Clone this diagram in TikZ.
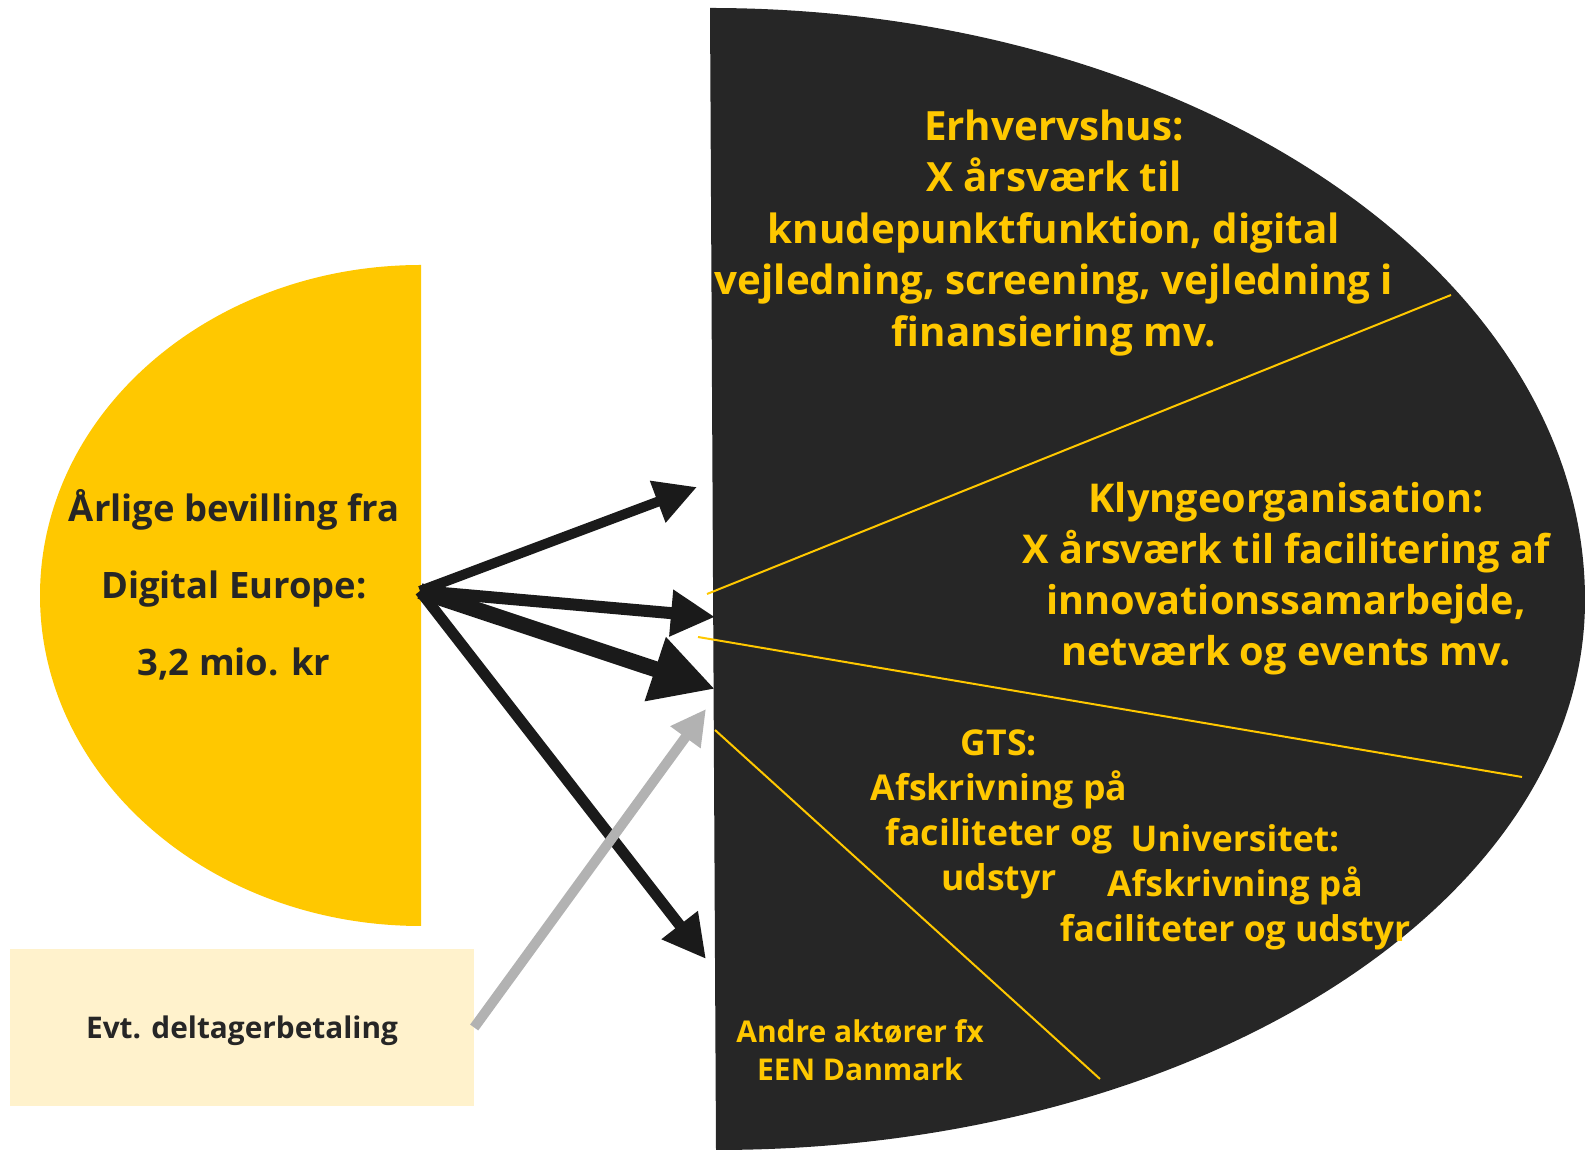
\documentclass[tikz,border=0pt]{standalone}
\usepackage{fontspec}
\setmainfont{Open Sans}
\usetikzlibrary{arrows.meta,positioning}
\definecolor{sunyellow}{RGB}{255,200,0}
\definecolor{paleyellow}{RGB}{255,242,204}
\definecolor{charcoal}{RGB}{38,38,38}
\definecolor{inkblack}{RGB}{26,26,26}
\definecolor{ashgrey}{RGB}{178,178,178}
\tikzset{x=1pt,y=1pt,
         every node/.style={inner sep=0pt,align=center},
         hubtext/.style args={#1/#2}{text=sunyellow,font=\bfseries\fontsize{#1}{#2}\selectfont},
         divider/.style={sunyellow,line width=2pt},
         flow/.style args={#1/#2}{inkblack,line width=#1,-{Triangle[length=#2,width=#2]}}}

\begin{document}
\begin{tikzpicture}
  \useasboundingbox (0,0) rectangle (1585,1156);
  % the two halves
  \fill[charcoal] (710,1148) arc[start angle=90,end angle=0,x radius=875,y radius=592]
                  arc[start angle=0,end angle=-90,x radius=869,y radius=550] -- cycle;
  \fill[sunyellow] (421,891) arc[start angle=90,end angle=270,x radius=381,y radius=330.5] -- cycle;
  \draw[divider] (707,562) -- (1451,861);
  \draw[divider] (698,519) -- (1522,379);
  \draw[divider] (715,426) -- (1100,77);
  % texts
  \node[text=charcoal,font=\bfseries\fontsize{36.4}{77}\selectfont] (fund) at (234,571)
    {Årlige bevilling fra\\Digital Europe:\\3,2 mio. kr};
  \node[fill=paleyellow,minimum width=464pt,minimum height=157pt,text=charcoal,text depth=0pt,
        font=\bfseries\fontsize{29.8}{36}\selectfont] (fee) at (242,128.5) {Evt. deltagerbetaling};
  \node[hubtext=40.3/51.5] (erh) at (1054,923)
    {Erhvervshus:\\X årsværk til\\knudepunktfunktion, digital\\vejledning, screening, vejledning i\\finansiering mv.};
  \node[hubtext=39.7/51] (klynge) at (1286,577)
    {Klyngeorganisation:\\X årsværk til facilitering af\\innovationssamarbejde,\\netværk og events mv.};
  \node[hubtext=35.6/45] (gts) at (999,342) {GTS:\\Afskrivning på\\faciliteter og\\udstyr};
  \node[hubtext=35.5/45] (uni) at (1235,269) {Universitet:\\Afskrivning på\\faciliteter og udstyr};
  \node[hubtext=30/38] (andre) at (860,106) {Andre aktører fx\\EEN Danmark};
  % flows
  \coordinate (src) at (420,565);
  \coordinate (to erh) at (697,669);
  \coordinate (to klynge) at (715,539);
  \coordinate (to gts) at (715,467);
  \coordinate (to andre) at (706,197);
  \coordinate (to hub) at (706,447);
  \draw[flow=10pt/42pt] (src) -- (to erh);
  \draw[flow=12pt/44pt] (src) -- (to klynge);
  \draw[flow=16pt/63pt] (src) -- (to gts);
  \draw[flow=11pt/43pt] (src) -- (to andre);
  \draw[flow=10pt/35pt,ashgrey] (fee.east) -- (to hub);
\end{tikzpicture}
\end{document}
